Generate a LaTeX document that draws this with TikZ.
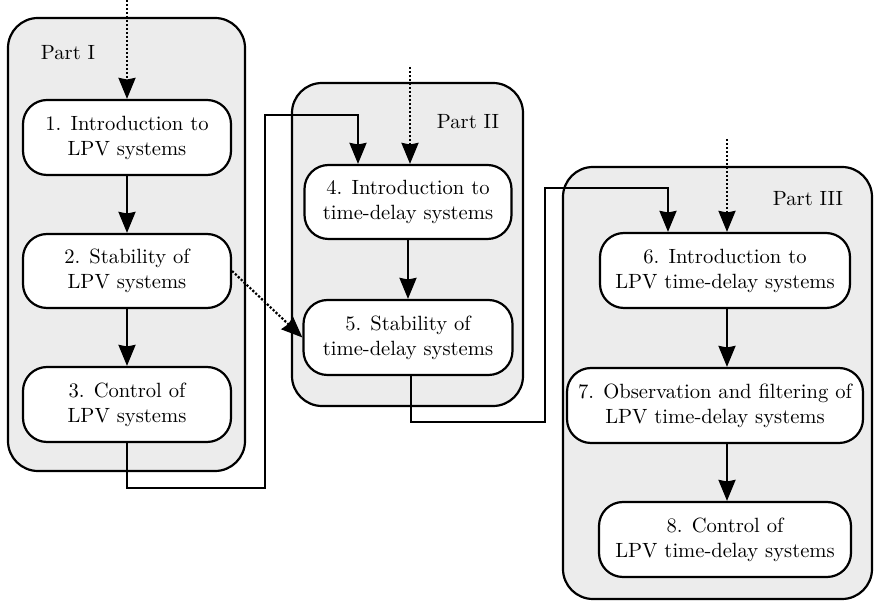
\documentclass[tikz,border=0pt]{standalone}
\usetikzlibrary{arrows.meta,calc}
\begin{document}
\begin{tikzpicture}[x=0.5pt,y=-0.5pt,
  part/.style={draw, line width=1.1pt, fill=gray!15, rounded corners=15pt, inner sep=0pt},
  chap/.style={draw, line width=1.1pt, fill=white, rounded corners=12pt, align=center, inner sep=0pt,
    font=\fontsize{10.3}{12.5}\selectfont},
  lbl/.style={inner sep=0pt, font=\fontsize{10.3}{12.5}\selectfont},
  conn/.style={line width=1.1pt, -{Stealth[length=10.5pt,width=8.5pt,inset=0.8pt]}},
  dots/.style={conn, dash pattern=on 1.1pt off 0.9pt}]
\useasboundingbox (0,0) rectangle (874,603);
% parts
\node[part, minimum width=118.5pt, minimum height=226.5pt] (p1) at (126.5,244.5) {};
\node[part, minimum width=115.5pt, minimum height=161.5pt] (p2) at (407.5,244.5) {};
\node[part, minimum width=154.5pt, minimum height=216pt] (p3) at (717.5,383) {};
\node[lbl] (l1) at (68,53) {Part I};
\node[lbl] (l2) at (468,122) {Part II};
\node[lbl] (l3) at (808,199) {Part III};
% connectors between parts
\coordinate (a1) at (265,488);
\coordinate (a2) at (358,115);
\coordinate (b1) at (545,422);
\coordinate (b2) at (668,188);
% chapters
\node[chap, minimum width=104pt, minimum height=37.5pt] (n1) at (127,137.5) {1. Introduction to\\LPV systems};
\node[chap, minimum width=104pt, minimum height=37pt] (n2) at (127,271) {2. Stability of\\LPV systems};
\node[chap, minimum width=104pt, minimum height=37.5pt] (n3) at (127,404.5) {3. Control of\\LPV systems};
\node[chap, minimum width=103.5pt, minimum height=37pt] (n4) at (408,202) {4. Introduction to\\time-delay systems};
\node[chap, minimum width=104.5pt, minimum height=37.5pt] (n5) at (408,337.5) {5. Stability of\\time-delay systems};
\node[chap, minimum width=125pt, minimum height=37.5pt] (n6) at (725,270.5) {6. Introduction to\\LPV time-delay systems};
\node[chap, minimum width=148pt, minimum height=37.5pt] (n7) at (715,405.5) {7. Observation and filtering of\\LPV time-delay systems};
\node[chap, minimum width=126pt, minimum height=37.5pt] (n8) at (725,539.5) {8. Control of\\LPV time-delay systems};
\draw[conn] (n3.south) |- (a1) |- (a2) -- (a2 |- n4.north);
\draw[conn] ($(n5.south)+(3,0)$) |- (b1) |- (b2) -- (b2 |- n6.north);
% arrows inside parts
\draw[conn] (n1) -- (n2);
\draw[conn] (n2) -- (n3);
\draw[conn] (n4) -- (n5);
\coordinate (c6) at (727,0);
\draw[conn] (c6 |- n6.south) -- (c6 |- n7.north);
\draw[conn] (c6 |- n7.south) -- (c6 |- n8.north);
% dotted inputs
\coordinate (s1) at (127,0);
\coordinate (s4) at (410,67);
\coordinate (s6) at (727,139);
\draw[dots] (s1) -- (s1 |- n1.north);
\draw[dots] (s4) -- (s4 |- n4.north);
\draw[dots] (s6) -- (s6 |- n6.north);
\draw[dots] (n2.east) -- (n5.west);
\end{tikzpicture}
\end{document}
